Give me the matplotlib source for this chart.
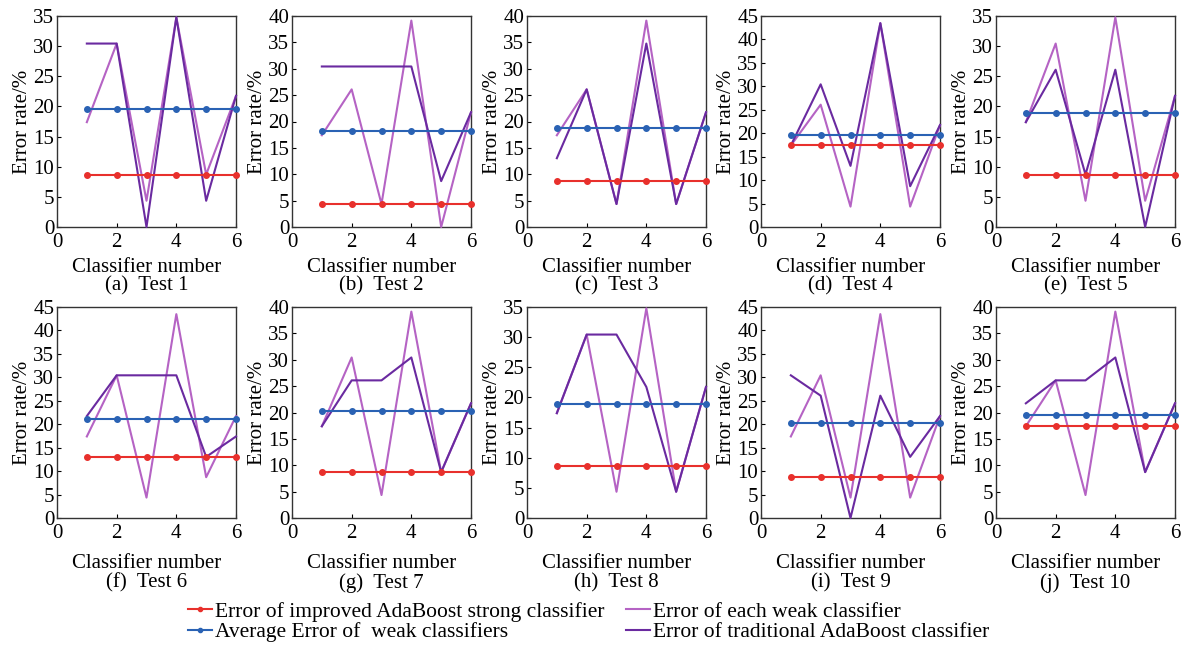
import matplotlib.pyplot as plt
import numpy as np

plt.rcParams['font.family'] = ['Liberation Serif', 'DejaVu Serif']

x = [1, 2, 3, 4, 5, 6]

tests = ['(a)  Test 1', '(b)  Test 2', '(c)  Test 3', '(d)  Test 4', '(e)  Test 5',
         '(f)  Test 6', '(g)  Test 7', '(h)  Test 8', '(i)  Test 9', '(j)  Test 10']
ymax = [35, 40, 40, 45, 35, 45, 40, 35, 45, 40]

# error of improved AdaBoost strong classifier (constant per test)
strong = [8.70, 4.35, 8.70, 17.39, 8.70, 13.04, 8.70, 8.70, 8.70, 17.39]
# average error of weak classifiers (constant per test)
avg_weak = [19.57, 18.12, 18.84, 19.57, 18.84, 21.01, 20.29, 18.84, 20.29, 19.57]

weak = [
    [17.39, 30.43, 4.35, 34.78, 8.70, 21.74],
    [17.39, 26.09, 4.35, 39.13, 0.00, 21.74],
    [17.39, 26.09, 4.35, 39.13, 4.35, 21.74],
    [17.39, 26.09, 4.35, 43.48, 4.35, 21.74],
    [17.39, 30.43, 4.35, 34.78, 4.35, 21.74],
    [17.39, 30.43, 4.35, 43.48, 8.70, 21.74],
    [17.39, 30.43, 4.35, 39.13, 8.70, 21.74],
    [17.39, 30.43, 4.35, 34.78, 4.35, 21.74],
    [17.39, 30.43, 4.35, 43.48, 4.35, 21.74],
    [17.39, 26.09, 4.35, 39.13, 8.70, 21.74],
]
traditional = [
    [30.43, 30.43, 0.00, 34.78, 4.35, 21.74],
    [30.43, 30.43, 30.43, 30.43, 8.70, 21.74],
    [13.04, 26.09, 4.35, 34.78, 4.35, 21.74],
    [17.39, 30.43, 13.04, 43.48, 8.70, 21.74],
    [17.39, 26.09, 8.70, 26.09, 0.00, 21.74],
    [21.74, 30.43, 30.43, 30.43, 13.04, 17.39],
    [17.39, 26.09, 26.09, 30.43, 8.70, 21.74],
    [17.39, 30.43, 30.43, 21.74, 4.35, 21.74],
    [30.43, 26.09, 0.00, 26.09, 13.04, 21.74],
    [21.74, 26.09, 26.09, 30.43, 8.70, 21.74],
]

c_strong = '#e8302c'
c_avg = '#2a62b4'
c_weak = '#b563c4'
c_trad = '#6a2aa0'

W, H = 1190, 649
fig = plt.figure(figsize=(W / 100, H / 100), dpi=100)

lefts = [57, 292, 527, 761, 996]
tops = [16, 307]
caption_y = [286, 583]
aw, ah = 179, 211

for i in range(10):
    row, col = divmod(i, 5)
    l = lefts[col]
    t = tops[row]
    ax = fig.add_axes([l / W, 1 - (t + ah) / H, aw / W, ah / H])
    n = len(x)
    ax.plot(x, weak[i], color=c_weak, lw=1.5, clip_on=False, zorder=3)
    ax.plot(x, traditional[i], color=c_trad, lw=1.5, clip_on=False, zorder=3)
    ax.plot(x, [strong[i]] * n, color=c_strong, lw=1.5, marker='o', ms=4, clip_on=False, zorder=4)
    ax.plot(x, [avg_weak[i]] * n, color=c_avg, lw=1.5, marker='o', ms=4, clip_on=False, zorder=4)
    ax.set_xlim(0, 6)
    ax.set_ylim(0, ymax[i])
    ax.set_xticks([0, 2, 4, 6])
    ax.set_yticks(np.arange(0, ymax[i] + 1, 5))
    ax.tick_params(direction='in', length=3, labelsize=15)
    ax.tick_params(axis='x', pad=4)
    ax.tick_params(axis='y', pad=2)
    for s in ax.spines.values():
        s.set_color('#333333')
        s.set_linewidth(1.0)
    ax.set_xlabel('Classifier number', fontsize=15, labelpad=5 if row == 0 else 8)
    ax.set_ylabel('Error rate/%', fontsize=15, labelpad=1)
    fig.text((l + aw / 2) / W, 1 - caption_y[row] / H, tests[i], ha='center', va='center', fontsize=15)

handles = [
    plt.Line2D([], [], color=c_strong, lw=1.5, marker='o', ms=3),
    plt.Line2D([], [], color=c_avg, lw=1.5, marker='o', ms=3),
    plt.Line2D([], [], color=c_weak, lw=1.5),
    plt.Line2D([], [], color=c_trad, lw=1.5),
]
labels = ['Error of improved AdaBoost strong classifier',
          'Average Error of  weak classifiers',
          'Error of each weak classifier',
          'Error of traditional AdaBoost classifier']
fig.legend(handles, labels, ncol=2, loc='center', bbox_to_anchor=(589 / W, 1 - 622 / H),
           frameon=False, fontsize=15.5, handlelength=1.1, handletextpad=0.15,
           columnspacing=1.0, labelspacing=0.0, borderpad=0.1)

plt.savefig('out.png', dpi=100)
